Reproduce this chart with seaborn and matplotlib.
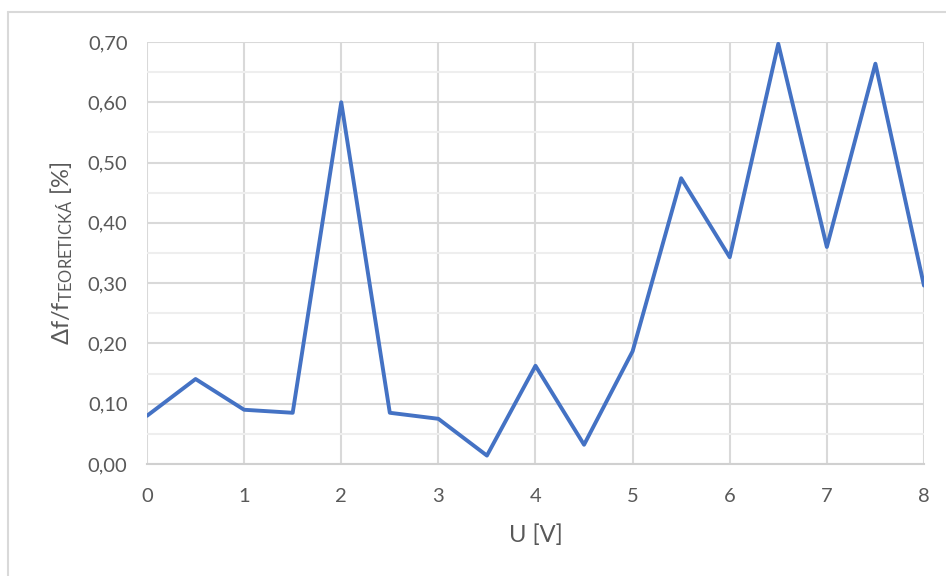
import matplotlib
matplotlib.use('Agg')
import matplotlib.pyplot as plt
import matplotlib.ticker as mticker
from matplotlib.lines import Line2D
import pandas as pd
import seaborn as sns

# values
u_volts = [0, 0.5, 1, 1.5, 2, 2.5, 3, 3.5, 4, 4.5, 5, 5.5, 6, 6.5, 7, 7.5, 8]
deviation_pct = [0.080, 0.141, 0.090, 0.085, 0.600, 0.085, 0.075, 0.014, 0.163,
                 0.032, 0.187, 0.474, 0.343, 0.697, 0.360, 0.664, 0.296]

df = pd.DataFrame({'U': u_volts, 'dev': deviation_pct})

sns.set_style('white')
plt.rcParams['font.family'] = ['Lato', 'DejaVu Sans']
plt.rcParams['mathtext.fontset'] = 'custom'
plt.rcParams['mathtext.rm'] = 'Lato'
plt.rcParams['mathtext.it'] = 'Lato'

text_col = '#595959'

fig = plt.figure(figsize=(9.46, 5.76), dpi=100)
ax = fig.add_axes([0.1554, 0.1944, 0.8213, 0.7327])

sns.lineplot(data=df, x='U', y='dev', ax=ax, color='#4472C4', linewidth=2.8, zorder=3)

ax.set_xlim(0, 8)
ax.set_ylim(0, 0.70)
ax.xaxis.set_major_locator(mticker.MultipleLocator(1))
ax.yaxis.set_major_locator(mticker.MultipleLocator(0.1))
ax.yaxis.set_minor_locator(mticker.MultipleLocator(0.05))
ax.yaxis.set_major_formatter(mticker.FuncFormatter(lambda v, p: f'{v:.2f}'.replace('.', ',')))

ax.grid(True, which='major', axis='both', color='#d9d9d9', linewidth=1.5, zorder=0)
ax.grid(True, which='minor', axis='y', color='#eeeeee', linewidth=1.5, zorder=0)
ax.set_axisbelow(True)

for s in ['top', 'right', 'left']:
    ax.spines[s].set_visible(False)
ax.spines['bottom'].set_color('#d0d0d0')
ax.spines['bottom'].set_linewidth(1.5)

ax.tick_params(axis='both', which='both', length=0, labelsize=14.5, labelcolor=text_col)
ax.tick_params(axis='x', pad=17)
ax.tick_params(axis='y', pad=14)

ax.set_xlabel('U [V]', fontsize=17, color=text_col, labelpad=14)
ax.set_ylabel(r'Δf/f$_{\mathrm{TEORETICKÁ}}$ [%]', fontsize=17, color=text_col, labelpad=9)

# outer chart border (left and top visible)
fig.add_artist(Line2D([0.0085, 0.0085], [0, 1 - 12 / 576], transform=fig.transFigure,
                      color='#d9d9d9', linewidth=1.5))
fig.add_artist(Line2D([0.0085, 1], [1 - 12 / 576, 1 - 12 / 576], transform=fig.transFigure,
                      color='#d9d9d9', linewidth=1.5))

fig.savefig('out.png', dpi=100)
